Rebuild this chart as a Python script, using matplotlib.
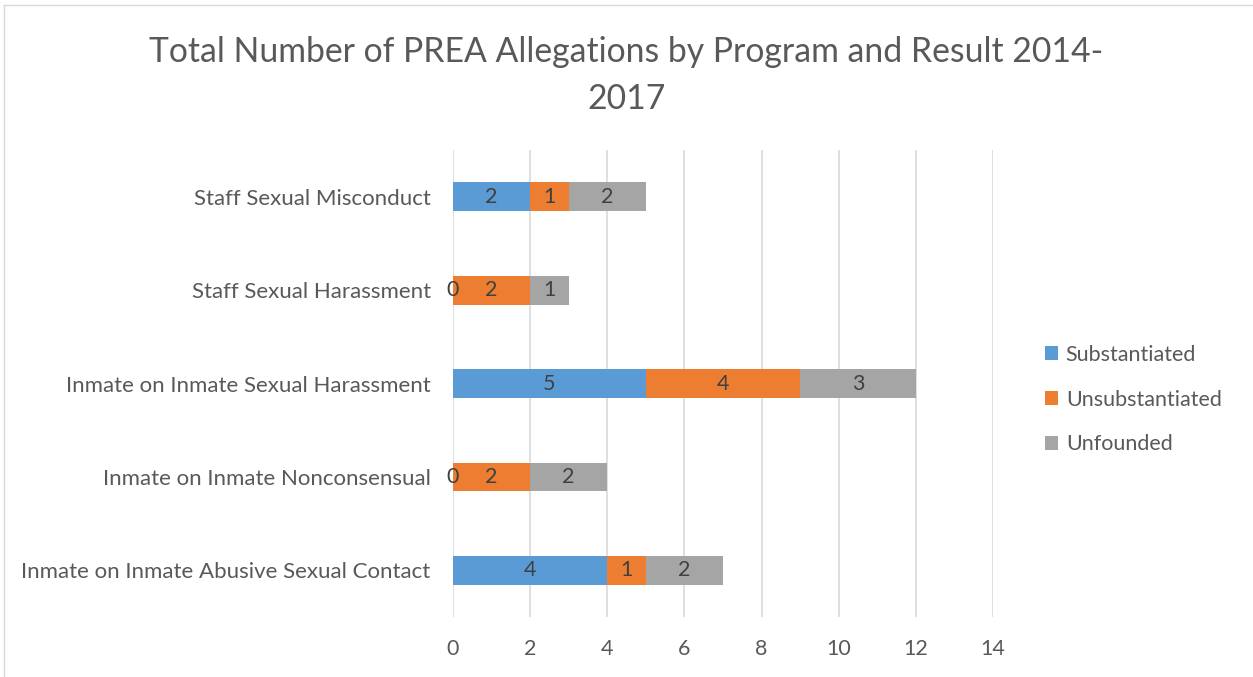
import matplotlib.pyplot as plt
import numpy as np

plt.rcParams['font.family'] = ['Lato', 'DejaVu Sans']

categories = [
    "Inmate on Inmate Abusive Sexual Contact",
    "Inmate on Inmate Nonconsensual",
    "Inmate on Inmate Sexual Harassment",
    "Staff Sexual Harassment",
    "Staff Sexual Misconduct",
]
substantiated = [4, 0, 5, 0, 2]
unsubstantiated = [1, 2, 4, 2, 1]
unfounded = [2, 2, 3, 1, 2]

series = [
    ("Substantiated", substantiated, "#5B9BD5"),
    ("Unsubstantiated", unsubstantiated, "#ED7D31"),
    ("Unfounded", unfounded, "#A5A5A5"),
]

fig = plt.figure(figsize=(12.53, 6.77), dpi=100)
ax = fig.add_axes([0.3615, 0.0886, 0.431, 0.6894])

y = np.arange(len(categories))
left = np.zeros(len(categories))
for name, vals, color in series:
    bars = ax.barh(y, vals, left=left, height=0.31, color=color, label=name, zorder=3)
    texts = ax.bar_label(bars, labels=[str(v) for v in vals], label_type="center",
                         color="#404040", fontsize=15.5)
    for t in texts:
        t.set_zorder(6)
    left += np.array(vals)

ax.set_xlim(0, 14)
ax.set_ylim(-0.5, 4.5)
ax.set_xticks(range(0, 15, 2))
ax.set_yticks(y)
ax.set_yticklabels(categories, fontsize=16)
ax.tick_params(axis="both", length=0, colors="#595959")
ax.tick_params(axis="x", pad=16, labelsize=15.5)
ax.tick_params(axis="y", pad=16)
ax.grid(axis="x", color="#D9D9D9", linewidth=1.2, zorder=0)
for s in ax.spines.values():
    s.set_visible(False)

fig.suptitle("Total Number of PREA Allegations by Program and Result 2014-\n2017",
             x=0.5, y=0.947, fontsize=24.3, color="#595959", linespacing=1.6)

ax.legend(loc="center left", bbox_to_anchor=(1.061, 0.466), frameon=False,
          fontsize=15.5, labelcolor="#595959", handlelength=0.6, handleheight=0.6,
          handletextpad=0.35, labelspacing=1.16)

# outer chart border
fig.add_artist(plt.Line2D([0.003, 0.003], [0, 0.992], color="#D9D9D9", lw=1))
fig.add_artist(plt.Line2D([0.003, 1], [0.992, 0.992], color="#D9D9D9", lw=1))

fig.savefig("out.png", dpi=100)
